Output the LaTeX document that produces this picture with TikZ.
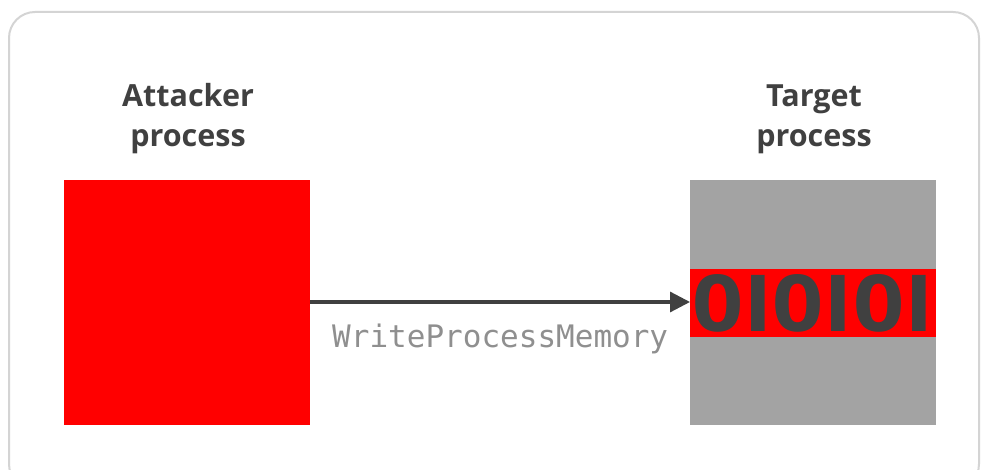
\documentclass[tikz,border=0pt]{standalone}
\usepackage{fontspec}
\setmainfont{Open Sans}
\newfontfamily\labelfont{Open Sans}
\newfontfamily\codefont{DejaVu Sans Mono}
\usetikzlibrary{arrows.meta}
\definecolor{txtdark}{HTML}{404040}
\definecolor{boxred}{HTML}{FF0000}
\definecolor{boxgray}{HTML}{A3A3A3}
\definecolor{framegray}{HTML}{D4D4D4}
\definecolor{codegray}{HTML}{8F8F8F}
\tikzset{
  x=1pt,y=1pt,
  proclabel/.style={font=\labelfont\bfseries\fontsize{30.5}{40}\selectfont,text=txtdark,align=center,inner sep=0pt},
  procbox/.style={minimum width=246pt,minimum height=245pt,inner sep=0pt,draw=none},
}
\begin{document}
\begin{tikzpicture}
\useasboundingbox (0,0) rectangle (981,470);
\fill[white] (0,0) rectangle (981,470);
\draw[framegray,line width=2pt,rounded corners=26pt] (9,-20) rectangle (979,458);
% boxes
\node[procbox,fill=boxred,anchor=north west] (att) at (64,290) {};
\node[procbox,fill=boxgray,anchor=north west] (tgt) at (690,290) {};
\node[fill=boxred,minimum width=246pt,minimum height=68pt,inner sep=0pt,anchor=north west] (band) at (690,201) {};
\node[inner sep=0pt,text=txtdark] (bits) at (band.center) {\resizebox{242pt}{57pt}{\labelfont\bfseries 0I0I0I}};
% labels
\node[proclabel] (attlbl) at (188,351) {Attacker\\process};
\node[proclabel] (tgtlbl) at (814,351) {Target\\process};
% arrow
\draw[txtdark,line width=3.2pt,-{Triangle[length=20pt,width=20pt]}] (att.east |- 0,168) -- (tgt.west |- 0,168) node[pos=0.5,below=17pt,font=\codefont\fontsize{31}{36}\selectfont,text=codegray] (api) {WriteProcessMemory};
\end{tikzpicture}
\end{document}
